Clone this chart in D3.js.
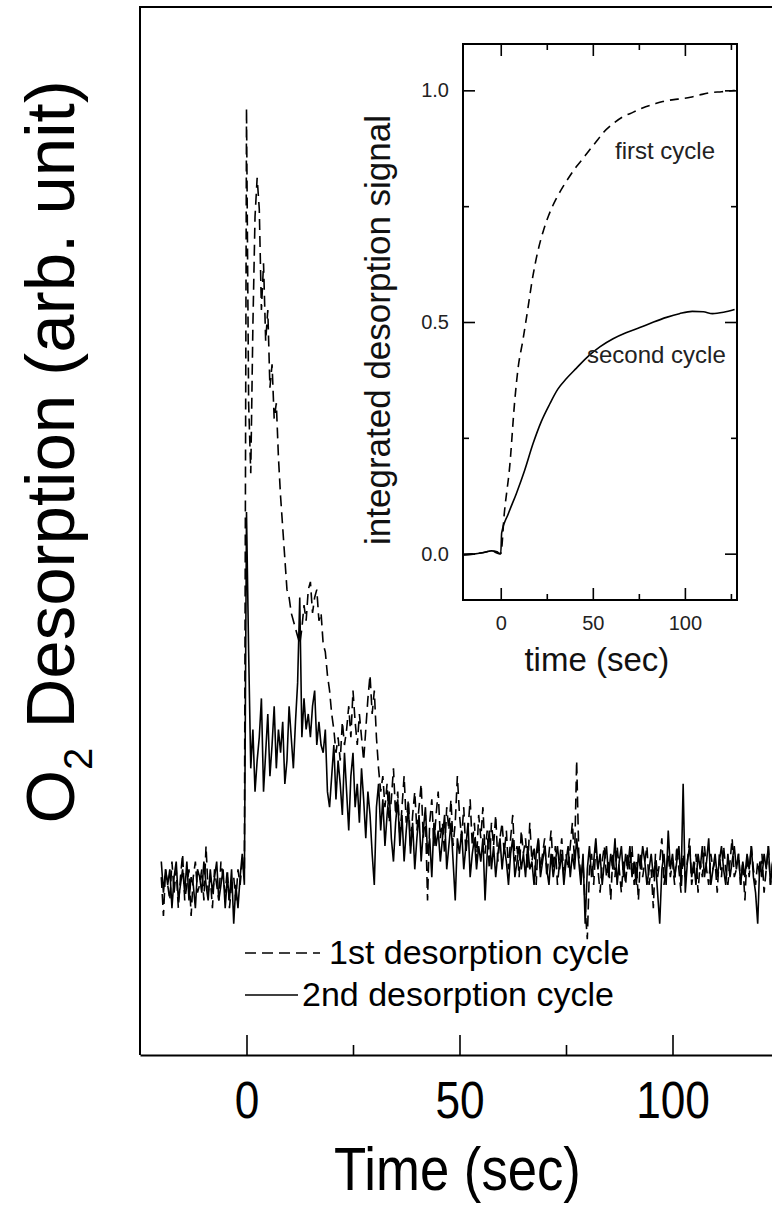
<!DOCTYPE html>
<html>
<head>
<meta charset="utf-8">
<script src="https://cdn.jsdelivr.net/npm/d3@7/dist/d3.min.js"></script>
<style>
  body { margin: 0; background: #fff; }
  svg { display: block; }
  text { font-family: "Liberation Sans", Arial, sans-serif; }
</style>
</head>
<body>
<div id="chart"></div>
<script>
// main panel: O2 desorption signal, one sample every 0.5 s starting at t = -20 s
const tStart = -20;
const tStep = 0.5;

// t = -20 ... -0.5
const firstPre = [0.01,-0.04,0.02,0.00,-0.02,0.03,-0.01,0.02,-0.03,0.01,
  0.04,-0.02,0.00,0.02,-0.04,0.01,0.03,-0.01,0.00,0.02,
  -0.02,0.05,-0.01,0.01,-0.03,0.02,0.00,-0.02,0.03,0.01,
  -0.01,0.02,-0.03,0.00,0.01,-0.02,0.02,0.00,0.03,0.02];
const secondPre = [0.03,-0.01,0.02,0.00,0.02,-0.03,0.01,0.03,-0.02,0.00,
  0.02,-0.01,0.03,-0.02,0.01,0.00,-0.03,0.02,0.01,-0.01,
  0.03,0.00,-0.02,0.02,-0.01,0.01,0.03,-0.02,0.00,0.02,
  -0.03,0.01,-0.02,0.02,-0.05,0.00,-0.03,0.01,0.04,0.00];

// t = 0 ... 124.5
const firstPost = [1.00,0.62,0.53,0.72,0.86,0.91,0.87,0.74,0.80,0.70,
  0.74,0.64,0.67,0.60,0.62,0.55,0.50,0.46,0.42,0.38,
  0.37,0.35,0.34,0.33,0.32,0.31,0.33,0.36,0.34,0.38,
  0.39,0.35,0.37,0.38,0.34,0.35,0.31,0.30,0.27,0.25,
  0.22,0.20,0.17,0.19,0.16,0.21,0.18,0.20,0.23,0.19,
  0.25,0.21,0.18,0.22,0.19,0.16,0.20,0.24,0.27,0.22,
  0.25,0.19,0.15,0.12,0.14,0.10,0.13,0.08,0.11,0.15,
  0.09,0.12,0.06,0.10,0.14,0.08,0.11,0.05,0.09,0.12,
  0.07,0.10,0.13,0.06,0.09,-0.02,0.08,0.11,0.05,0.09,
  0.12,0.06,0.08,0.04,0.10,0.07,0.11,0.05,0.08,0.14,
  0.09,0.06,0.10,0.04,0.07,0.11,0.05,0.08,0.03,0.09,
  0.06,0.10,0.04,0.07,0.02,0.08,0.05,0.09,0.03,0.06,
  0.08,0.04,0.07,0.02,0.06,0.09,0.03,0.05,0.01,0.07,
  0.04,0.06,0.02,0.08,0.03,0.05,0.00,0.06,0.02,0.04,
  0.06,0.01,0.04,0.07,0.02,0.05,0.00,0.03,0.06,0.01,
  0.04,0.02,0.05,0.08,0.03,0.16,0.04,0.01,0.03,-0.03,
  -0.07,0.02,0.04,0.00,0.05,0.02,-0.01,0.03,0.05,0.01,
  0.03,-0.02,0.04,0.01,0.05,0.02,-0.01,0.03,0.00,0.04,
  0.02,0.05,0.00,0.03,-0.02,0.04,0.01,0.03,0.05,0.00,
  0.02,-0.03,0.04,0.01,0.03,0.06,0.00,0.02,0.04,0.01,
  0.03,0.00,0.05,0.02,-0.01,0.04,0.01,0.03,0.06,0.00,
  0.02,0.04,-0.01,0.03,0.01,0.05,0.02,0.00,0.04,0.02,
  0.03,-0.01,0.04,0.01,0.05,0.02,0.00,0.03,0.06,0.01,
  0.02,0.04,0.00,0.03,-0.02,0.04,0.01,0.05,0.02,0.00,
  0.03,0.01,0.04,-0.01,0.02,0.05,0.00,0.03,0.01,0.02];
const secondPost = [0.48,0.30,0.15,0.20,0.12,0.16,0.19,0.24,0.12,0.17,
  0.22,0.14,0.18,0.23,0.15,0.20,0.17,0.21,0.13,0.16,
  0.23,0.19,0.15,0.21,0.26,0.37,0.19,0.24,0.20,0.22,
  0.19,0.23,0.25,0.18,0.21,0.18,0.17,0.20,0.12,0.10,
  0.14,0.18,0.11,0.16,0.13,0.09,0.17,0.12,0.07,0.14,
  0.17,0.10,0.13,0.08,0.15,0.11,0.06,0.12,0.09,0.04,
  0.00,0.10,0.13,0.07,0.11,0.05,0.09,0.12,0.06,0.03,
  0.08,0.11,0.05,0.09,0.03,0.07,0.10,0.04,0.08,0.02,
  0.06,0.09,0.03,0.07,0.10,0.04,0.06,0.01,0.08,0.05,
  0.07,0.03,0.06,0.09,0.02,0.05,0.08,0.03,-0.02,0.06,
  0.04,0.07,0.02,0.05,0.08,0.01,0.04,0.06,0.02,0.05,
  0.03,0.06,-0.02,0.04,0.07,0.02,0.05,0.01,0.04,0.06,
  0.02,0.05,0.03,0.00,0.04,0.06,0.01,0.03,0.05,0.02,
  0.04,0.01,0.05,0.02,0.03,0.00,0.04,0.06,0.01,0.03,
  0.05,0.02,0.00,0.04,0.01,0.03,0.05,0.02,0.04,0.00,
  0.03,0.05,0.01,0.04,0.02,0.06,0.03,0.00,0.04,-0.05,
  0.02,0.05,0.01,0.03,0.06,0.02,0.04,0.00,0.03,0.05,
  0.01,0.04,0.02,0.06,0.00,0.03,0.05,0.01,0.04,0.02,
  0.05,0.01,0.03,0.00,0.04,0.02,0.05,0.03,0.00,0.02,
  0.04,0.01,0.03,-0.01,-0.05,0.02,0.04,0.00,0.07,0.02,
  0.04,0.01,0.03,0.05,0.00,0.13,-0.01,0.03,0.05,0.01,
  0.03,0.00,0.04,0.02,0.05,0.01,0.03,0.06,0.00,0.02,
  0.04,0.01,0.03,0.05,0.02,0.00,0.04,0.01,0.03,0.05,
  0.02,0.04,0.00,0.03,0.01,0.04,0.02,0.05,0.01,-0.01,
  -0.05,0.03,0.01,0.04,0.02,0.05,0.00,0.03,0.02,0.04];

const mainTicks = [0, 50, 100];
const mainMinorTicks = [25, 75];
const legendLabels = ["1st desorption cycle", "2nd desorption cycle"];

// inset: integrated desorption signal
const insetFirstTime = [-20,-10,-5,-1,0,2,4.9,7.6,9.4,12,14,17.5,20,23,26,30,33.5,37.5,41,44.7,48,52,56,61,66,72,77,83,88,94,98,103,108,113.6,120,127];
const insetFirstValue = [-0.002,0.002,0.006,0.0,0.0,0.09,0.19,0.33,0.40,0.46,0.51,0.60,0.65,0.695,0.73,0.765,0.79,0.815,0.835,0.853,0.87,0.89,0.91,0.928,0.942,0.953,0.962,0.97,0.976,0.98,0.982,0.985,0.99,0.995,0.997,1.0];
const insetSecondTime = [-20,-15,-10,-5,-2,-0.5,0,0.5,4,8.5,13,17.5,22,26.6,31,35.7,41,48,54,61,68,75.5,83,90,97,104,110,115,121,127];
const insetSecondValue = [-0.003,-0.001,0.002,0.006,0.004,0.0,0.0,0.045,0.085,0.13,0.18,0.237,0.285,0.323,0.355,0.378,0.40,0.428,0.447,0.464,0.477,0.488,0.50,0.51,0.518,0.523,0.522,0.518,0.521,0.527];
const insetXTicks = [0, 50, 100];
const insetXMinor = [25, 75, 125];
const insetYTicks = [0, 0.5, 1.0];
const insetYMinor = [0.25, 0.75];
const insetLabels = ["first cycle", "second cycle"];

const width = 772;
const height = 1208;
const squeeze = "scale(0.85,1)"; // the big outer labels are set in a condensed face

const svg = d3.select("#chart").append("svg")
  .attr("width", width)
  .attr("height", height);

// ---------- main panel ----------
const main = { left: 140, top: 7, bottom: 1055 };
const x = d3.scaleLinear().domain([-25, 125]).range([main.left, main.left + 639]);
const y = d3.scaleLinear().domain([-0.219, 1.13]).range([main.bottom, main.top]);

const toSeries = (pre, post) => pre.concat(post).map((v, i) => ({ t: tStart + i * tStep, v }));
const first = toSeries(firstPre, firstPost);
const second = toSeries(secondPre, secondPost);

const line = d3.line().x((d) => x(d.t)).y((d) => y(d.v));

svg.append("path")
  .datum(second)
  .attr("fill", "none")
  .attr("stroke", "#000")
  .attr("stroke-width", 1.6)
  .attr("d", line);

svg.append("path")
  .datum(first)
  .attr("fill", "none")
  .attr("stroke", "#000")
  .attr("stroke-width", 1.6)
  .attr("stroke-dasharray", "11,6")
  .attr("d", line);

// frame: left and top edges (right edge runs off the page)
svg.append("path")
  .attr("d", `M${main.left},${main.bottom}V${main.top}H${width + 5}`)
  .attr("fill", "none")
  .attr("stroke", "#000")
  .attr("stroke-width", 2);

const xAxis = svg.append("g")
  .attr("transform", `translate(0,${main.bottom})`)
  .call(d3.axisBottom(x).tickValues(mainTicks).tickSize(-20).tickSizeOuter(0).tickPadding(26));
xAxis.select(".domain").attr("stroke-width", 2);
xAxis.selectAll(".tick line").attr("stroke-width", 1.6);
xAxis.selectAll("text")
  .attr("font-family", "Liberation Sans, Arial, sans-serif")
  .attr("font-size", 52)
  .attr("fill", "#000")
  .attr("transform", squeeze);

svg.append("g")
  .attr("transform", `translate(0,${main.bottom})`)
  .call(d3.axisBottom(x).tickValues(mainMinorTicks).tickSize(-10).tickFormat(""))
  .call((g) => g.select(".domain").remove())
  .selectAll(".tick line").attr("stroke-width", 1.6);

svg.append("text")
  .attr("transform", `translate(${x(50) - 2},1190) ${squeeze}`)
  .attr("text-anchor", "middle")
  .attr("font-size", 62)
  .text("Time (sec)");

const yLabel = svg.append("text")
  .attr("transform", "translate(74,452) rotate(-90)")
  .attr("text-anchor", "middle")
  .attr("font-size", 69);
yLabel.append("tspan").text("O");
yLabel.append("tspan").attr("font-size", 40).attr("dy", 18).text("2");
yLabel.append("tspan").attr("dy", -18).text(" Desorption (arb. unit)");

// legend
const legend = svg.append("g");
legend.append("line")
  .attr("x1", 245).attr("x2", 320).attr("y1", 953).attr("y2", 953)
  .attr("stroke", "#000").attr("stroke-width", 1.6).attr("stroke-dasharray", "11,6");
legend.append("text")
  .attr("x", 329).attr("y", 964)
  .attr("font-size", 34)
  .text(legendLabels[0]);
legend.append("line")
  .attr("x1", 245).attr("x2", 298).attr("y1", 995).attr("y2", 995)
  .attr("stroke", "#000").attr("stroke-width", 1.6);
legend.append("text")
  .attr("x", 302).attr("y", 1006)
  .attr("font-size", 34)
  .text(legendLabels[1]);

// ---------- inset ----------
const inset = { left: 463, right: 737, top: 44, bottom: 600 };
const xi = d3.scaleLinear().domain([-20.5, 128.3]).range([inset.left, inset.right]);
const yi = d3.scaleLinear().domain([-0.10, 1.10]).range([inset.bottom, inset.top]);

svg.append("rect")
  .attr("x", inset.left).attr("y", inset.top)
  .attr("width", inset.right - inset.left)
  .attr("height", inset.bottom - inset.top)
  .attr("fill", "#fff")
  .attr("stroke", "#000")
  .attr("stroke-width", 2);

const insetLine = d3.line().x((d) => xi(d.t)).y((d) => yi(d.v)).curve(d3.curveMonotoneX);
const insetFirst = insetFirstTime.map((t, i) => ({ t, v: insetFirstValue[i] }));
const insetSecond = insetSecondTime.map((t, i) => ({ t, v: insetSecondValue[i] }));

svg.append("path")
  .datum(insetSecond)
  .attr("fill", "none")
  .attr("stroke", "#000")
  .attr("stroke-width", 1.6)
  .attr("d", insetLine);

svg.append("path")
  .datum(insetFirst)
  .attr("fill", "none")
  .attr("stroke", "#000")
  .attr("stroke-width", 1.6)
  .attr("stroke-dasharray", "9,6")
  .attr("d", insetLine);

function insetAxis(g, axis) {
  g.call(axis);
  g.select(".domain").remove();
  g.selectAll(".tick line").attr("stroke-width", 1.6);
  g.selectAll("text")
    .attr("font-family", "Liberation Sans, Arial, sans-serif")
    .attr("font-size", 20)
    .attr("fill", "#222");
}

svg.append("g").attr("transform", `translate(0,${inset.bottom})`)
  .call(insetAxis, d3.axisBottom(xi).tickValues(insetXTicks).tickSize(-12).tickPadding(16));
svg.append("g").attr("transform", `translate(0,${inset.bottom})`)
  .call(insetAxis, d3.axisBottom(xi).tickValues(insetXMinor).tickSize(-6).tickFormat(""));
svg.append("g").attr("transform", `translate(0,${inset.top})`)
  .call(insetAxis, d3.axisTop(xi).tickValues(insetXTicks).tickSize(-12).tickFormat(""));
svg.append("g").attr("transform", `translate(0,${inset.top})`)
  .call(insetAxis, d3.axisTop(xi).tickValues(insetXMinor).tickSize(-6).tickFormat(""));
svg.append("g").attr("transform", `translate(${inset.left},0)`)
  .call(insetAxis, d3.axisLeft(yi).tickValues(insetYTicks).tickSize(-12).tickPadding(14).tickFormat(d3.format(".1f")));
svg.append("g").attr("transform", `translate(${inset.left},0)`)
  .call(insetAxis, d3.axisLeft(yi).tickValues(insetYMinor).tickSize(-6).tickFormat(""));
svg.append("g").attr("transform", `translate(${inset.right},0)`)
  .call(insetAxis, d3.axisRight(yi).tickValues(insetYTicks).tickSize(-12).tickFormat(""));
svg.append("g").attr("transform", `translate(${inset.right},0)`)
  .call(insetAxis, d3.axisRight(yi).tickValues(insetYMinor).tickSize(-6).tickFormat(""));

svg.append("text")
  .attr("x", xi(50) + 4)
  .attr("y", 671)
  .attr("text-anchor", "middle")
  .attr("font-size", 33)
  .attr("fill", "#111")
  .text("time (sec)");

svg.append("text")
  .attr("transform", "translate(390,330) rotate(-90)")
  .attr("text-anchor", "middle")
  .attr("font-size", 35)
  .attr("fill", "#111")
  .text("integrated desorption signal");

svg.append("text")
  .attr("x", 615).attr("y", 159)
  .attr("font-size", 24)
  .attr("fill", "#222")
  .text(insetLabels[0]);
svg.append("text")
  .attr("x", 587).attr("y", 363)
  .attr("font-size", 24)
  .attr("fill", "#222")
  .text(insetLabels[1]);
</script>
</body>
</html>
